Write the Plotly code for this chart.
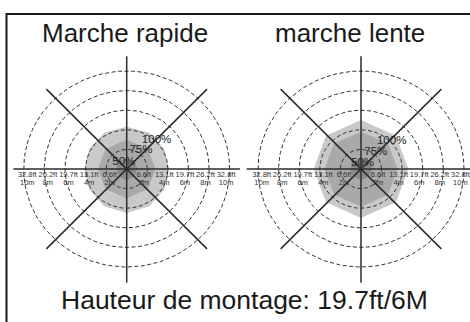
import numpy as np
import plotly.graph_objects as go

# Detection rings (metres) and their labels
ring_m = [2, 4, 6, 8, 10]
ring_ft_labels = ["6.6ft", "13.1ft", "19.7ft", "26.2ft", "32.8ft"]
ring_m_labels = ["2m", "4m", "6m", "8m", "10m"]

# Coverage zones, radius in metres per direction (degrees, counter-clockwise from east)
fast_outer_deg = [0, 30, 60, 90, 120, 150, 180, 210, 240, 270, 300, 330]
fast_outer_r = [4.1, 4.2, 4.3, 4.3, 4.3, 4.2, 4.1, 4.2, 4.4, 4.5, 4.4, 4.2]
fast_mid_deg = [0, 45, 90, 135, 180, 225, 270, 315]
fast_mid_r = [2.8, 2.9, 3.0, 2.9, 2.8, 2.9, 3.0, 2.9]
fast_core_deg = [0, 45, 90, 135, 180, 225, 270, 315]
fast_core_r = [1.05, 1.05, 1.15, 1.05, 1.05, 1.05, 1.15, 1.05]

slow_outer_deg = [0, 45, 90, 135, 180, 225, 270, 315]
slow_outer_r = [4.6, 4.8, 5.0, 4.8, 4.6, 4.8, 5.0, 4.8]
slow_mid_deg = [0, 45, 90, 135, 180, 225, 270, 315]
slow_mid_r = [3.55, 3.7, 3.8, 3.7, 3.55, 3.7, 3.85, 3.7]
slow_core_deg = [0, 45, 90, 135, 180, 225, 270, 315]
slow_core_r = [1.1, 1.1, 1.15, 1.1, 1.1, 1.1, 1.15, 1.1]

zone_labels = ["100%", "75%", "50%"]
fast_label_x = [2.9, 1.38, -0.28]
fast_label_y = [2.96, 1.88, 0.74]
slow_label_x = [2.98, 1.44, 0.15]
slow_label_y = [2.81, 1.76, 0.61]

titles = ["Marche rapide", "marche lente"]
footer = "Hauteur de montage: 19.7ft/6M"

ZONE_COLORS = ["#c9c9c9", "#a9a9a9", "#8a8a8a"]
LINE = "#2b2b2b"
FONT = "Liberation Sans, Arial, sans-serif"

fig = go.Figure()


def polygon(deg, r):
    a = np.radians(np.array(deg + [deg[0]], dtype=float))
    rr = np.array(r + [r[0]], dtype=float)
    return rr * np.cos(a), rr * np.sin(a)


def add_panel(xa, ya, zones, lab_x, lab_y, h_ext):
    # shaded coverage zones
    for (deg, r), col in zip(zones, ZONE_COLORS):
        px, py = polygon(deg, r)
        fig.add_trace(go.Scatter(x=px, y=py, fill="toself", fillcolor=col,
                                 line=dict(width=0), mode="lines",
                                 hoverinfo="skip", showlegend=False,
                                 xaxis=xa, yaxis=ya))
    # dashed distance rings
    t = np.linspace(0, 2 * np.pi, 181)
    for r in ring_m:
        fig.add_trace(go.Scatter(x=r * np.cos(t), y=r * np.sin(t), mode="lines",
                                 line=dict(color="#333333", width=1, dash="4px,2.5px"),
                                 hoverinfo="skip", showlegend=False,
                                 xaxis=xa, yaxis=ya))
    # cross and diagonal guide lines
    guides = [
        ([-h_ext[0], h_ext[1]], [0, 0]),
        ([0, 0], [-11.6, 11.5]),
        ([-7.8, 7.8], [-8.15, 8.15]),
        ([-7.8, 7.8], [8.15, -8.15]),
    ]
    for gx, gy in guides:
        fig.add_trace(go.Scatter(x=gx, y=gy, mode="lines",
                                 line=dict(color=LINE, width=1.5),
                                 hoverinfo="skip", showlegend=False,
                                 xaxis=xa, yaxis=ya))
    # distance labels on both sides of the centre
    off = 0.35
    xs = [-(r - off) for r in ring_m] + [r - off for r in ring_m]
    fig.add_trace(go.Scatter(x=xs, y=[-0.66] * len(xs), mode="text",
                             text=ring_ft_labels + ring_ft_labels,
                             textfont=dict(size=7.5, color="#333333", family=FONT),
                             hoverinfo="skip", showlegend=False,
                             xaxis=xa, yaxis=ya))
    fig.add_trace(go.Scatter(x=xs, y=[-1.42] * len(xs), mode="text",
                             text=ring_m_labels + ring_m_labels,
                             textfont=dict(size=7.5, color="#333333", family=FONT),
                             hoverinfo="skip", showlegend=False,
                             xaxis=xa, yaxis=ya))
    # zone percentage labels
    fig.add_trace(go.Scatter(x=lab_x, y=lab_y, mode="text", text=zone_labels,
                             textfont=dict(size=11.5, color="#222222", family=FONT),
                             hoverinfo="skip", showlegend=False,
                             xaxis=xa, yaxis=ya))


add_panel("x", "y",
          [(fast_outer_deg, fast_outer_r), (fast_mid_deg, fast_mid_r), (fast_core_deg, fast_core_r)],
          fast_label_x, fast_label_y, (11.0, 11.0))
add_panel("x2", "y2",
          [(slow_outer_deg, slow_outer_r), (slow_mid_deg, slow_mid_r), (slow_core_deg, slow_core_r)],
          slow_label_x, slow_label_y, (11.1, 11.5))

W, H = 470, 322
ydom = [1 - 290 / H, 1 - 50 / H]
yrng = [-(290 - 169) / 9.8, (169 - 50) / 9.8]
axis_common = dict(visible=False, fixedrange=True)

fig.update_layout(
    width=W, height=H,
    margin=dict(l=0, r=0, t=0, b=0),
    paper_bgcolor="white", plot_bgcolor="white",
    xaxis=dict(domain=[0, 240 / W], range=[-126.7 / 10.3, (240 - 126.7) / 10.3], **axis_common),
    yaxis=dict(domain=ydom, range=yrng, **axis_common),
    xaxis2=dict(domain=[240 / W, 1], range=[(240 - 361) / 10.3, (470 - 361) / 10.3],
                anchor="y2", **axis_common),
    yaxis2=dict(domain=ydom, range=yrng, anchor="x2", **axis_common),
    shapes=[dict(type="path", xref="paper", yref="paper",
                 path=f"M {6.5 / W},-0.1 L {6.5 / W},{1 - 14 / H} L 1.1,{1 - 14 / H}",
                 line=dict(color="#1a1a1a", width=2))],
    annotations=[
        dict(text=titles[0], x=125 / W, y=1 - 33 / H, xref="paper", yref="paper",
             showarrow=False, xanchor="center", yanchor="middle",
             font=dict(size=26, color="#1a1a1a", family=FONT)),
        dict(text=titles[1], x=350 / W, y=1 - 33 / H, xref="paper", yref="paper",
             showarrow=False, xanchor="center", yanchor="middle",
             font=dict(size=26, color="#1a1a1a", family=FONT)),
        dict(text=footer, x=244 / W, y=1 - 300 / H, xref="paper", yref="paper",
             showarrow=False, xanchor="center", yanchor="middle",
             font=dict(size=26.5, color="#1a1a1a", family=FONT)),
    ],
)

fig.write_html("out.html")
